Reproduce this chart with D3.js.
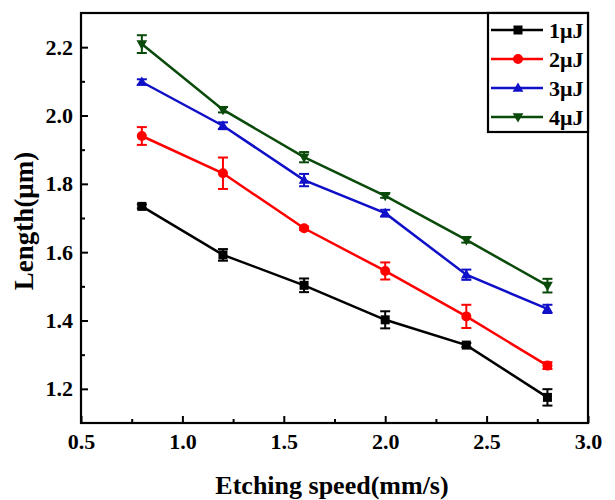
<!DOCTYPE html>
<html>
<head>
<meta charset="utf-8">
<script src="https://cdnjs.cloudflare.com/ajax/libs/d3/7.8.5/d3.min.js"></script>
<style>
  body { margin: 0; background: #fff; }
  text { font-family: "Liberation Serif", "Times New Roman", serif; font-weight: bold; }
</style>
</head>
<body>
<svg class="chart"></svg>
<script>
// etching speed (mm/s)
var speeds = [0.8, 1.2, 1.6, 2.0, 2.4, 2.8];

var names = ["1\u03bcJ", "2\u03bcJ", "3\u03bcJ", "4\u03bcJ"];
var colors = ["#000000", "#ff0000", "#1010c8", "#0a4a0a"];
var shapes = ["square", "circle", "triangle", "down"];

// length (um) and error per series
var len1 = [1.734, 1.592, 1.503, 1.402, 1.328, 1.175];
var err1 = [0.006, 0.017, 0.020, 0.025, 0.006, 0.024];
var len2 = [1.940, 1.831, 1.670, 1.545, 1.412, 1.268];
var err2 = [0.026, 0.046, 0.005, 0.025, 0.034, 0.010];
var len3 = [2.098, 1.970, 1.811, 1.714, 1.534, 1.434];
var err3 = [0.008, 0.010, 0.018, 0.010, 0.015, 0.012];
var len4 = [2.209, 2.017, 1.878, 1.765, 1.636, 1.502];
var err4 = [0.026, 0.008, 0.015, 0.006, 0.008, 0.020];

var xTicks = [0.5, 1.0, 1.5, 2.0, 2.5, 3.0];
var yTicks = [1.2, 1.4, 1.6, 1.8, 2.0, 2.2];

var width = 615, height = 500;
var pl = 81, pr = 588, pt = 13, pb = 423;

var svg = d3.select(".chart").attr("width", width).attr("height", height);

var x = d3.scaleLinear().domain([0.5, 3.0]).range([pl, pr]);
var y = d3.scaleLinear().domain([1.1, 2.3]).range([pb, pt]);

var series = [len1, len2, len3, len4].map(function(v, i) {
  var e = [err1, err2, err3, err4][i];
  return { name: names[i], color: colors[i], shape: shapes[i],
           pts: v.map(function(d, j) { return { x: speeds[j], y: d, e: e[j] }; }) };
});

// frame
svg.append("rect")
  .attr("x", pl).attr("y", pt)
  .attr("width", pr - pl).attr("height", pb - pt)
  .attr("fill", "none").attr("stroke", "#000").attr("stroke-width", 2.2);

// axes, ticks pointing inward
var xAxis = svg.append("g").attr("transform", "translate(0," + pb + ")")
  .call(d3.axisBottom(x).tickValues(xTicks).tickFormat(d3.format(".1f")).tickSizeInner(-7).tickSizeOuter(0).tickPadding(10));
var xMinor = svg.append("g").attr("transform", "translate(0," + pb + ")")
  .call(d3.axisBottom(x).tickValues([0.75, 1.25, 1.75, 2.25, 2.75]).tickFormat("").tickSizeInner(-4).tickSizeOuter(0));
var yAxis = svg.append("g").attr("transform", "translate(" + pl + ",0)")
  .call(d3.axisLeft(y).tickValues(yTicks).tickFormat(d3.format(".1f")).tickSizeInner(-7).tickSizeOuter(0).tickPadding(8));
var yMinor = svg.append("g").attr("transform", "translate(" + pl + ",0)")
  .call(d3.axisLeft(y).tickValues([1.3, 1.5, 1.7, 1.9, 2.1]).tickFormat("").tickSizeInner(-4).tickSizeOuter(0));

[xAxis, xMinor, yAxis, yMinor].forEach(function(g) {
  g.attr("font-size", null).attr("font-family", null);
  g.select(".domain").remove();
  g.selectAll("line").attr("stroke", "#000").attr("stroke-width", 2);
  g.selectAll("text").attr("font-size", 22).attr("fill", "#000");
});

// axis titles
svg.append("text")
  .attr("x", 332).attr("y", 494)
  .attr("text-anchor", "middle").attr("font-size", 26)
  .text("Etching speed(mm/s)");
svg.append("text")
  .attr("transform", "translate(33," + 221 + ") rotate(-90)")
  .attr("text-anchor", "middle").attr("font-size", 27)
  .text("Length(\u03bcm)");

function marker(g, shape, color, s) {
  if (shape === "square") {
    g.append("rect").attr("x", -s / 2).attr("y", -s / 2).attr("width", s).attr("height", s).attr("fill", color);
  } else if (shape === "circle") {
    g.append("circle").attr("r", s / 2 + 0.5).attr("fill", color);
  } else if (shape === "triangle") {
    g.append("path").attr("d", "M0," + (-s * 0.62) + "L" + (s * 0.6) + "," + (s * 0.42) + "L" + (-s * 0.6) + "," + (s * 0.42) + "Z").attr("fill", color);
  } else {
    g.append("path").attr("d", "M0," + (s * 0.62) + "L" + (s * 0.6) + "," + (-s * 0.42) + "L" + (-s * 0.6) + "," + (-s * 0.42) + "Z").attr("fill", color);
  }
}

var line = d3.line().x(function(d) { return x(d.x); }).y(function(d) { return y(d.y); });

series.forEach(function(s) {
  var g = svg.append("g");
  g.append("path").datum(s.pts).attr("d", line)
    .attr("fill", "none").attr("stroke", s.color).attr("stroke-width", 2.5);

  var eb = g.selectAll(".err").data(s.pts).enter().append("g");
  eb.append("line")
    .attr("x1", function(d) { return x(d.x); }).attr("x2", function(d) { return x(d.x); })
    .attr("y1", function(d) { return y(d.y - d.e); }).attr("y2", function(d) { return y(d.y + d.e); })
    .attr("stroke", s.color).attr("stroke-width", 2);
  [-1, 1].forEach(function(sg) {
    eb.append("line")
      .attr("x1", function(d) { return x(d.x) - 5; }).attr("x2", function(d) { return x(d.x) + 5; })
      .attr("y1", function(d) { return y(d.y + sg * d.e); }).attr("y2", function(d) { return y(d.y + sg * d.e); })
      .attr("stroke", s.color).attr("stroke-width", 2);
  });

  g.selectAll(".mk").data(s.pts).enter().append("g")
    .attr("transform", function(d) { return "translate(" + x(d.x) + "," + y(d.y) + ")"; })
    .each(function() { marker(d3.select(this), s.shape, s.color, 9); });
});

// legend
var lg = svg.append("g");
lg.append("rect").attr("x", 488).attr("y", pt).attr("width", pr - 488).attr("height", 119)
  .attr("fill", "#fff").attr("stroke", "#000").attr("stroke-width", 2.2);
series.forEach(function(s, i) {
  var yy = 30 + i * 29;
  lg.append("line").attr("x1", 491).attr("x2", 543).attr("y1", yy).attr("y2", yy)
    .attr("stroke", s.color).attr("stroke-width", 2.5);
  var m = lg.append("g").attr("transform", "translate(518," + yy + ")");
  marker(m, s.shape, s.color, 9);
  lg.append("text").attr("x", 549).attr("y", yy).attr("dy", "0.35em")
    .attr("font-size", 22).text(s.name);
});
</script>
</body>
</html>
